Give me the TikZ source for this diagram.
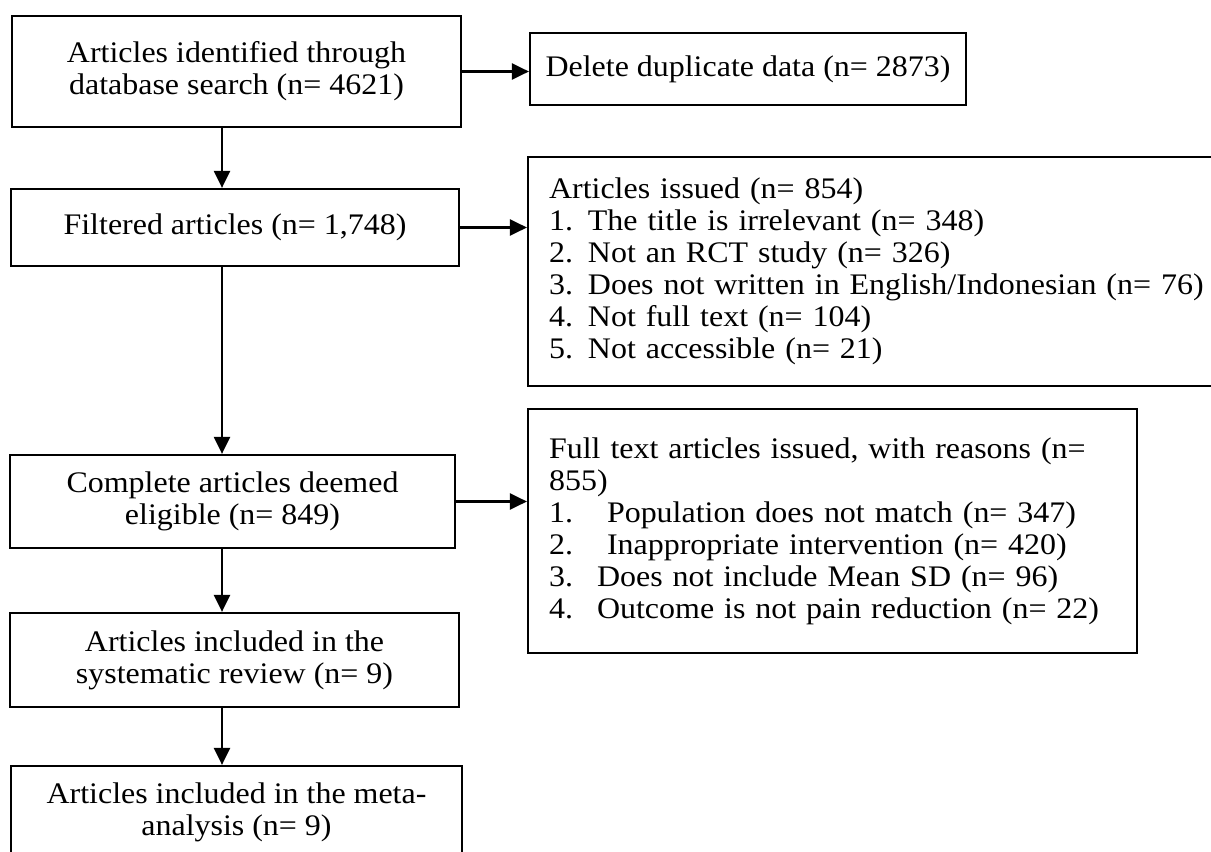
\documentclass[tikz,border=0pt]{standalone}
\usepackage{fontspec}
\setmainfont{Liberation Serif}[FakeStretch=1.07]
\usetikzlibrary{arrows.meta}

\begin{document}
\begin{tikzpicture} [x=0.02cm, y=-0.02cm,
  box/.style={draw, line width=1.3pt, rectangle, inner sep=0pt, align=center,
    font=\fontsize{17}{18.2}\selectfont},
  listbox/.style={box, align=left, inner xsep=0.42cm},
  arr/.style={line width=1.3pt, -{Triangle[length=0.34cm, width=0.32cm]}}]

\useasboundingbox (0,0) rectangle (1211,852);

\coordinate (mid) at (222,0);

\node [box, minimum width=8.98cm, minimum height=2.22cm] (ident) at (236.5,71.5)
  {Articles identified through\\ database search (n= 4621)};
\node [box, minimum width=8.72cm, minimum height=1.44cm] (delete) at (748,69)
  {Delete duplicate data (n= 2873)};
\node [box, minimum width=8.96cm, minimum height=1.54cm] (filtered) at (235,227.5)
  {Filtered articles (n= 1,748)};
\node [listbox, text width=13.4cm, minimum height=4.58cm] (issued) at (884,271.5)
  {Articles issued (n= 854)\\
   1. The title is irrelevant (n= 348)\\
   2. Not an RCT study (n= 326)\\
   3. Does not written in English/Indonesian (n= 76)\\
   4. Not full text (n= 104)\\
   5. Not accessible (n= 21)};
\node [box, minimum width=8.9cm, minimum height=1.86cm] (complete) at (232.5,501.5)
  {Complete articles deemed\\ eligible (n= 849)};
\node [listbox, text width=11.34cm, minimum height=4.88cm] (fulltext) at (832.5,531)
  {\makebox[11.34cm][s]{Full text articles issued, with reasons (n=}\\
   855)\\
   \makebox[0.96cm][l]{1.}\ Population does not match (n= 347)\\
   \makebox[0.96cm][l]{2.}\ Inappropriate intervention (n= 420)\\
   \makebox[0.96cm][l]{3.}Does not include Mean SD (n= 96)\\
   \makebox[0.96cm][l]{4.}Outcome is not pain reduction (n= 22)};
\node [box, minimum width=8.98cm, minimum height=1.88cm] (sysrev) at (234.5,660)
  {Articles included in the\\ systematic review (n= 9)};
\node [box, minimum width=9.02cm, minimum height=1.86cm] (meta) at (236.5,812.5)
  {Articles included in the meta-\\ analysis (n= 9)};

\draw [arr] (ident.east) -- (ident.east -| delete.west);
\draw [arr] (filtered.east) -- (filtered.east -| issued.west);
\draw [arr] (complete.east) -- (complete.east -| fulltext.west);

\draw [arr] (ident.south -| mid) -- (filtered.north -| mid);
\draw [arr] (filtered.south -| mid) -- (complete.north -| mid);
\draw [arr] (complete.south -| mid) -- (sysrev.north -| mid);
\draw [arr] (sysrev.south -| mid) -- (meta.north -| mid);

\end{tikzpicture}
\end{document}
